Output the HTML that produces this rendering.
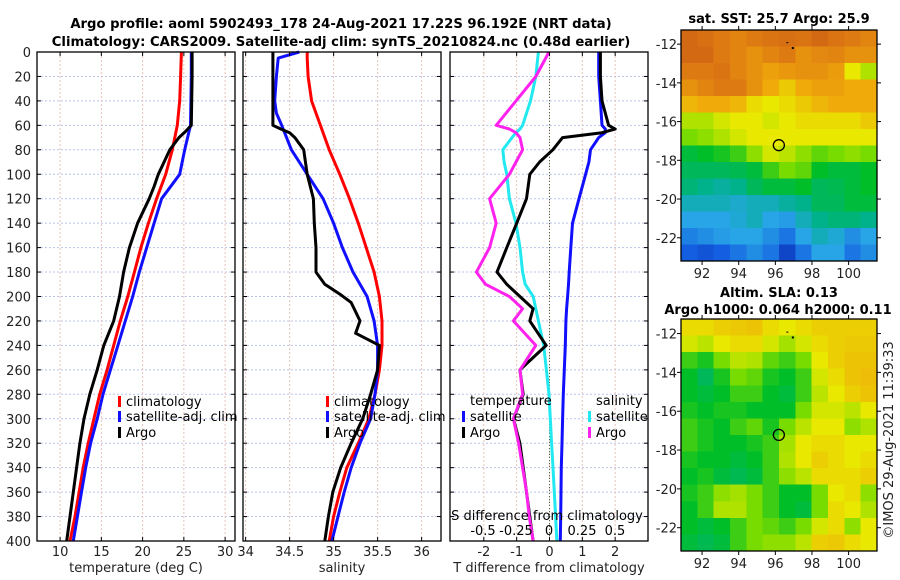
<!DOCTYPE html>
<html><head><meta charset="utf-8">
<style>
html,body{margin:0;padding:0;background:#fff;}
svg{display:block;font-family:"DejaVu Sans","Liberation Sans",sans-serif;}
</style></head>
<body>
<svg id="c" width="900" height="580" viewBox="0 0 900 580" xmlns="http://www.w3.org/2000/svg">
<text x="341" y="28" text-anchor="middle" font-size="13.2" font-weight="bold">Argo profile: aoml 5902493_178 24-Aug-2021 17.22S 96.192E (NRT data)</text>
<text x="341" y="46" text-anchor="middle" font-size="13.2" font-weight="bold">Climatology: CARS2009. Satellite-adj clim: synTS_20210824.nc (0.48d earlier)</text>
<text x="779" y="23" text-anchor="middle" font-size="13" font-weight="bold">sat. SST: 25.7 Argo: 25.9</text>
<text x="779" y="297" text-anchor="middle" font-size="13" font-weight="bold">Altim. SLA: 0.13</text>
<text x="778" y="314" text-anchor="middle" font-size="13" font-weight="bold">Argo h1000: 0.064 h2000: 0.11</text>
<text transform="translate(893,440) rotate(-90)" text-anchor="middle" font-size="13" fill="#222">©IMOS 29-Aug-2021 11:39:33</text>
</svg>
<script>
// ---- data ----
const depthsT = [0,20,40,60,80,100,120,140,160,180,200,220,240,260,280,300,320,340,360,380,400];
const tempClim = [24.7,24.6,24.5,24.2,23.6,22.8,21.7,20.7,19.8,19.0,18.2,17.3,16.5,15.7,14.8,14.1,13.4,12.8,12.3,11.8,11.2];
const tempSat  = [25.9,25.9,25.85,25.8,25.1,24.5,22.3,21.4,20.5,19.6,18.8,17.9,17.0,16.1,15.2,14.5,13.7,13.1,12.6,12.1,11.6];
const depthsArgoT = [0,20,40,60,65,70,80,90,100,110,120,140,160,180,200,220,240,260,280,300,320,340,360,380,400];
const tempArgo = [26.0,26.0,25.95,25.9,25.2,24.4,23.3,22.6,21.9,21.4,20.8,19.4,18.4,17.7,17.2,16.5,15.3,14.5,13.6,12.9,12.4,12.0,11.6,11.2,10.8];

const depthsS = [0,5,20,40,50,60,80,100,120,140,160,180,200,220,240,260,280,300,320,340,360,380,400];
const salClim = [34.7,34.7,34.71,34.75,34.8,34.85,34.95,35.07,35.18,35.28,35.37,35.46,35.52,35.55,35.55,35.52,35.47,35.4,35.28,35.15,35.07,35.0,34.95];
const salSat  = [34.61,34.37,34.35,34.33,34.35,34.41,34.52,34.7,34.88,35.0,35.1,35.22,35.38,35.46,35.5,35.5,35.47,35.42,35.3,35.2,35.12,35.05,34.98];
const depthsArgoS = [0,60,63,66,70,80,100,120,140,160,180,190,198,205,220,230,240,260,280,300,320,340,360,380,400];
const salArgo = [34.31,34.31,34.4,34.5,34.56,34.66,34.7,34.77,34.78,34.8,34.8,34.9,35.07,35.2,35.3,35.25,35.52,35.5,35.42,35.33,35.2,35.08,34.99,34.94,34.9];

const depthsD = [0,20,40,60,63,66,70,80,90,100,120,140,160,180,190,200,210,220,240,260,280,300,320,340,360,380,400];
const tdiffSat  = [1.5,1.5,1.55,1.6,1.7,1.7,1.5,1.25,1.2,1.1,0.9,0.7,0.65,0.6,0.58,0.55,0.52,0.5,0.48,0.45,0.42,0.4,0.38,0.36,0.35,0.34,0.33];
const tdiffArgo = [1.55,1.55,1.6,1.8,2.0,1.6,0.4,0.1,-0.3,-0.6,-0.7,-1.0,-1.3,-1.6,-1.3,-0.9,-0.5,-0.6,-0.1,-0.9,-0.8,-1.1,-0.9,-0.8,-0.7,-0.6,-0.5];
const sdiffSat  = [-0.08,-0.1,-0.14,-0.2,-0.22,-0.25,-0.28,-0.35,-0.34,-0.32,-0.3,-0.25,-0.22,-0.2,-0.18,-0.12,-0.1,-0.08,-0.04,-0.02,0.0,0.01,0.02,0.03,0.04,0.05,0.06];
const sdiffArgo = [0.0,-0.1,-0.25,-0.4,-0.3,-0.25,-0.22,-0.2,-0.25,-0.3,-0.45,-0.4,-0.45,-0.55,-0.48,-0.3,-0.2,-0.27,-0.1,-0.22,-0.2,-0.27,-0.23,-0.2,-0.17,-0.15,-0.12];

const depthTicks = [0,20,40,60,80,100,120,140,160,180,200,220,240,260,280,300,320,340,360,380,400];
const tempTicks = [10,15,20,25,30];
const salTicks = [34,34.5,35,35.5,36];
const tdiffTicks = [-2,-1,0,1,2];
const sdiffTicks = [-0.5,-0.25,0,0.25,0.5];
const lonTicks = [92,94,96,98,100];
const latTicks = [-12,-14,-16,-18,-20,-22];

const sstGrid = [
[.95,.93,.9,.88,.9,.92,.93,.92,.95,.92,.9,.88],
[.95,.95,.9,.88,.85,.88,.9,.85,.87,.88,.85,.85],
[.9,.9,.92,.88,.85,.82,.84,.85,.85,.83,.7,.65],
[.85,.88,.9,.9,.85,.8,.75,.8,.82,.82,.8,.8],
[.78,.8,.8,.78,.72,.7,.72,.75,.78,.8,.8,.8],
[.65,.65,.68,.7,.7,.68,.7,.72,.72,.72,.72,.75],
[.6,.62,.65,.68,.7,.7,.7,.7,.7,.7,.7,.7],
[.48,.5,.52,.55,.62,.68,.66,.62,.58,.6,.62,.6],
[.45,.45,.45,.46,.48,.55,.6,.58,.5,.48,.48,.5],
[.42,.4,.38,.4,.45,.48,.48,.5,.45,.46,.48,.5],
[.35,.35,.35,.33,.35,.35,.38,.4,.45,.45,.48,.48],
[.3,.3,.3,.32,.35,.3,.28,.35,.4,.42,.42,.4],
[.22,.25,.28,.3,.3,.25,.2,.3,.35,.32,.25,.3],
[.15,.12,.15,.2,.25,.2,.08,.2,.3,.3,.2,.25]];
const slaGrid = [
[.72,.72,.74,.75,.76,.72,.7,.72,.74,.74,.74,.74],
[.68,.66,.7,.72,.72,.68,.64,.68,.72,.74,.75,.75],
[.55,.52,.6,.66,.65,.58,.55,.6,.7,.74,.76,.76],
[.5,.45,.52,.6,.58,.52,.5,.55,.68,.72,.76,.77],
[.5,.48,.5,.55,.55,.5,.48,.55,.66,.7,.74,.76],
[.52,.5,.52,.52,.5,.5,.5,.6,.68,.68,.66,.7],
[.55,.52,.5,.55,.58,.52,.6,.66,.7,.7,.62,.65],
[.55,.52,.5,.5,.52,.55,.64,.7,.72,.72,.7,.7],
[.52,.5,.5,.48,.5,.55,.65,.7,.74,.72,.7,.72],
[.5,.52,.48,.46,.48,.55,.62,.66,.72,.72,.72,.74],
[.52,.55,.62,.64,.6,.55,.5,.5,.6,.7,.72,.62],
[.5,.55,.65,.65,.6,.55,.5,.48,.6,.72,.7,.65],
[.5,.48,.5,.55,.6,.58,.55,.6,.68,.72,.62,.7],
[.48,.46,.48,.55,.6,.62,.62,.66,.74,.75,.72,.7]];
const argoLon = 96.192, argoLat = -17.22;

// ---- helpers ----
const svg = document.getElementById('c');
const NS = 'http://www.w3.org/2000/svg';
function mk(tag, attrs, parent){const e=document.createElementNS(NS,tag);for(const k in attrs)e.setAttribute(k,attrs[k]);(parent||svg).appendChild(e);return e;}
const PT = 52, PB = 541;
const yD = d => PT + d*(PB-PT)/400;
const panels = [
 {x0:37,x1:235,v0:7.2,v1:31.2},
 {x0:243,x1:441,v0:33.97,v1:36.22},
 {x0:450,x1:648,v0:-3.03,v1:3.0}
];
const sx = (p,v) => p.x0 + (v-p.v0)*(p.x1-p.x0)/(p.v1-p.v0);
const sxS = v => 549 + v*132;
const FS = 13;

function grid(p, ticks){
  depthTicks.forEach(d=>{
    const l=mk('line',{x1:p.x0,x2:p.x1,y1:yD(d),y2:yD(d),stroke:'#b9c3ea','stroke-width':1,'stroke-dasharray':'2,2'});
    
    
  });
  ticks.forEach(v=>{
    const l=mk('line',{x1:sx(p,v),x2:sx(p,v),y1:PT,y2:PB,stroke:'#e8c3b9','stroke-width':1,'stroke-dasharray':'2,2'});
    
    
  });
}
function frame(p,name){
  const r=mk('rect',{x:p.x0,y:PT,width:p.x1-p.x0,height:PB-PT,fill:'none',stroke:'#000','stroke-width':1.3});
  
  
}
function xTicks(p,ticks,labels,name){
  ticks.forEach((v,i)=>{
    const x=sx(p,v);
    mk('line',{x1:x,x2:x,y1:PB,y2:PB-4,stroke:'#000'});
    mk('line',{x1:x,x2:x,y1:PT,y2:PT+4,stroke:'#000'});
    const t=mk('text',{x:x,y:556,'text-anchor':'middle','font-size':FS,fill:'#222'});
    t.textContent=labels[i];
    
    
  });
}
function yTicks(p,labels){
  depthTicks.forEach(d=>{
    mk('line',{x1:p.x0,x2:p.x0+4,y1:yD(d),y2:yD(d),stroke:'#000'});
    mk('line',{x1:p.x1,x2:p.x1-4,y1:yD(d),y2:yD(d),stroke:'#000'});
    if(labels){
      const t=mk('text',{x:31,y:yD(d)+5,'text-anchor':'end','font-size':FS,fill:'#222'});
      t.textContent=d;
      
      
    }
  });
}
function line(xs, ds, xfn, color, name, w){
  const pts = xs.map((v,i)=>xfn(v).toFixed(1)+','+yD(ds[i]).toFixed(1)).join(' ');
  const l=mk('polyline',{points:pts,fill:'none',stroke:color,'stroke-width':w||3,'stroke-linejoin':'round'});
  
  
}
function legendItem(x,y,color,label,name){
  const g=mk('g',{});
  
  
  mk('rect',{x:x,y:y-10,width:3,height:11,fill:color},g);
  const t=mk('text',{x:x+8,y:y,'font-size':FS,fill:'#000'},g);
  t.textContent=label;
}

// ---- panel 1: temperature ----
const P1=panels[0];
grid(P1,tempTicks);
line(tempClim,depthsT,v=>sx(P1,v),'#ff0000','temp-climatology-line');
line(tempSat,depthsT,v=>sx(P1,v),'#1010ff','temp-satellite-line');
line(tempArgo,depthsArgoT,v=>sx(P1,v),'#000','temp-argo-line');
frame(P1,'temperature-plot-frame');
xTicks(P1,tempTicks,tempTicks.map(String),'temperature');
yTicks(P1,true);
legendItem(118,406,'#ff0000','climatology','temp-legend-climatology');
legendItem(118,421,'#1010ff','satellite-adj. clim','temp-legend-satellite');
legendItem(118,437,'#000','Argo','temp-legend-argo');
let t=mk('text',{x:136,y:572,'text-anchor':'middle','font-size':FS,fill:'#222'});t.textContent='temperature (deg C)';


// ---- panel 2: salinity ----
const P2=panels[1];
grid(P2,salTicks);
line(salClim,depthsS,v=>sx(P2,v),'#ff0000','sal-climatology-line');
line(salSat,depthsS,v=>sx(P2,v),'#1010ff','sal-satellite-line');
line(salArgo,depthsArgoS,v=>sx(P2,v),'#000','sal-argo-line');
frame(P2,'salinity-plot-frame');
xTicks(P2,salTicks,salTicks.map(String),'salinity');
yTicks(P2,false);
legendItem(326,406,'#ff0000','climatology','sal-legend-climatology');
legendItem(326,421,'#1010ff','satellite-adj. clim','sal-legend-satellite');
legendItem(326,437,'#000','Argo','sal-legend-argo');
t=mk('text',{x:342,y:572,'text-anchor':'middle','font-size':FS,fill:'#222'});t.textContent='salinity';


// ---- panel 3: differences ----
const P3=panels[2];
grid(P3,tdiffTicks);
let zl=mk('line',{x1:sx(P3,0),x2:sx(P3,0),y1:PT,y2:PB,stroke:'#446644','stroke-width':1,'stroke-dasharray':'1,2'});

line(sdiffSat,depthsD,sxS,'#22e8f0','sdiff-satellite-line');
line(tdiffSat,depthsD,v=>sx(P3,v),'#1010ff','tdiff-satellite-line');
line(tdiffArgo,depthsD,v=>sx(P3,v),'#000','tdiff-argo-line');
line(sdiffArgo,depthsD,sxS,'#ff22ee','sdiff-argo-line');
frame(P3,'difference-plot-frame');
xTicks(P3,tdiffTicks,tdiffTicks.map(String),'tdiff');
yTicks(P3,false);
t=mk('text',{x:470,y:405,'font-size':FS});t.textContent='temperature';

t=mk('text',{x:596,y:405,'font-size':FS});t.textContent='salinity';

legendItem(462,421,'#1010ff','satellite','diff-legend-t-satellite');
legendItem(462,437,'#000','Argo','diff-legend-t-argo');
legendItem(588,421,'#22e8f0','satellite','diff-legend-s-satellite');
legendItem(588,437,'#ff22ee','Argo','diff-legend-s-argo');
t=mk('text',{x:547,y:520,'text-anchor':'middle','font-size':FS});t.textContent='S difference from climatology';

sdiffTicks.forEach(v=>{
  const tt=mk('text',{x:sxS(v),y:535,'text-anchor':'middle','font-size':FS});
  tt.textContent=String(v);
  
  
});
t=mk('text',{x:549,y:572,'text-anchor':'middle','font-size':FS,fill:'#222'});t.textContent='T difference from climatology';


// ---- maps ----
const stops=[[0,[10,40,170]],[0.15,[20,95,225]],[0.3,[40,165,230]],[0.4,[0,178,140]],[0.5,[0,190,40]],[0.6,[120,220,0]],[0.7,[232,232,0]],[0.8,[240,170,10]],[0.9,[222,122,18]],[1,[200,90,20]]];
function cmap(v){
  for(let i=1;i<stops.length;i++){
    if(v<=stops[i][0]){
      const a=stops[i-1],b=stops[i],f=(v-a[0])/(b[0]-a[0]);
      return 'rgb('+a[1].map((c,k)=>Math.round(c+(b[1][k]-c)*f)).join(',')+')';
    }
  }
  return 'rgb(200,90,20)';
}
function drawMap(gridData, y0, y1, latTop, latBot, name){
  const x0=681,x1=877,lon0=90.85,lon1=101.55;
  const mxf=lon=>x0+(lon-lon0)*(x1-x0)/(lon1-lon0);
  const myf=lat=>y0+(latTop-lat)*(y1-y0)/(latTop-latBot);
  const g=mk('g',{'shape-rendering':'crispEdges'});
  
  
  const nr=gridData.length,nc=gridData[0].length;
  const cw=(x1-x0)/nc,ch=(y1-y0)/nr;
  gridData.forEach((row,r)=>row.forEach((v,c)=>{
    const cell=mk('rect',{x:(x0+c*cw).toFixed(2),y:(y0+r*ch).toFixed(2),width:(cw+0.6).toFixed(2),height:(ch+0.6).toFixed(2),fill:cmap(v)},g);
    
    
  }));
  const f=mk('rect',{x:x0,y:y0,width:x1-x0,height:y1-y0,fill:'none',stroke:'#000','stroke-width':1.3});
  
  lonTicks.forEach(lon=>{
    const x=mxf(lon);
    mk('line',{x1:x,x2:x,y1:y1,y2:y1+4,stroke:'#000'});
    mk('line',{x1:x,x2:x,y1:y0,y2:y0-4,stroke:'#000'});
    const tt=mk('text',{x:x,y:y1+17,'text-anchor':'middle','font-size':FS,fill:'#222'});
    tt.textContent=lon;
    
  });
  latTicks.forEach(lat=>{
    const y=myf(lat);
    mk('line',{x1:x0,x2:x0-4,y1:y,y2:y,stroke:'#000'});
    mk('line',{x1:x1,x2:x1+4,y1:y,y2:y,stroke:'#000'});
    const tt=mk('text',{x:677,y:y+5,'text-anchor':'end','font-size':FS,fill:'#222'});
    tt.textContent=lat;
    
  });
  mk('rect',{x:mxf(96.6),y:myf(-11.9),width:2,height:1,fill:'#000'});
  mk('rect',{x:mxf(96.9),y:myf(-12.15),width:2,height:2,fill:'#000'});
  const m=mk('circle',{cx:mxf(argoLon),cy:myf(argoLat),r:5.5,fill:'none',stroke:'#000','stroke-width':1.3});
  
}
drawMap(sstGrid,30,261,-11.27,-23.2,'sst-map');
drawMap(slaGrid,319,551,-11.25,-23.2,'sla-map');
</script>
</body></html>
